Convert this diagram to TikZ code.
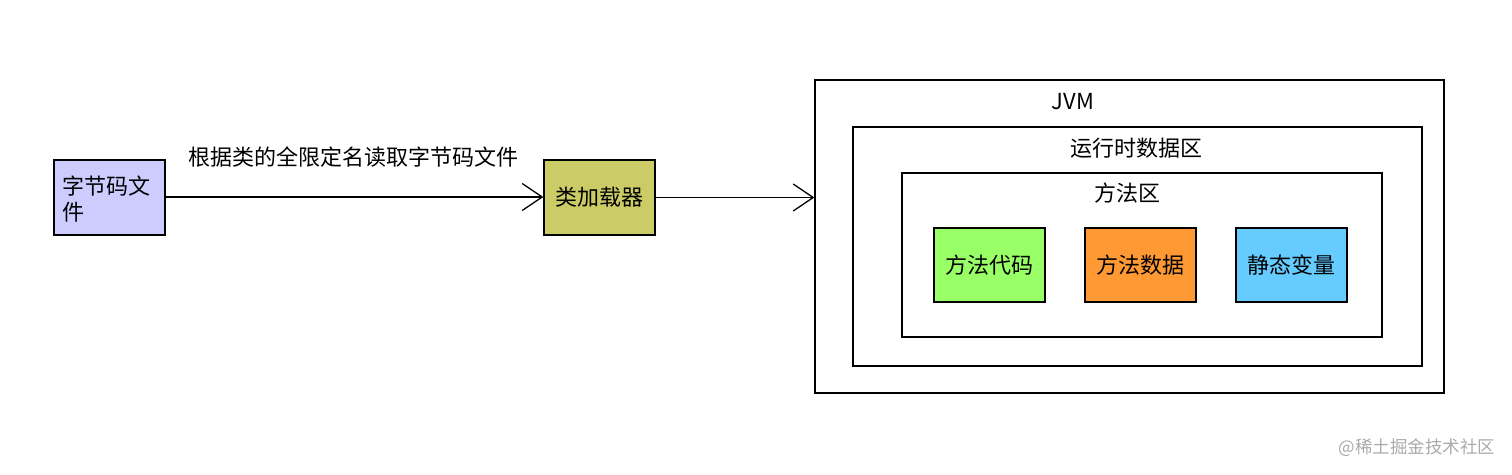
\documentclass[tikz,border=0pt]{standalone}
\usepackage{fontspec}
\setmainfont{Noto Sans CJK SC}
\usetikzlibrary{arrows.meta}
\definecolor{cfile}{HTML}{CCCCFF}
\definecolor{cload}{HTML}{CCCC66}
\definecolor{cgreen}{HTML}{99FF66}
\definecolor{corange}{HTML}{FF9933}
\definecolor{cblue}{HTML}{66CCFF}
\definecolor{cmark}{HTML}{AAAAAA}
\tikzset{
  box/.style={draw=black, line width=1.3pt, inner sep=0pt},
  txt/.style={font=\fontsize{22}{26}\selectfont, inner sep=0pt},
  conn/.style={line width=1.3pt, -{Straight Barb[length=20pt,width=27pt,line width=1.3pt]}},
}
\begin{document}
\begin{tikzpicture}[x=1pt,y=-1pt]
\useasboundingbox (0,0) rectangle (1512,474);
% left boxes
\draw[box, fill=cfile] (54,160) rectangle (165,235);
\node[txt, anchor=west, align=left] (file) at (62,199) {字节码文\\件};
\coordinate (fileR) at (165,197);
\node[box, fill=cload, minimum width=111pt, minimum height=75pt] (loader) at (599.5,197.5) {};
\node[txt] (loadertxt) at (loader.center) {类加载器};
\node[txt] (lbl) at (353,157) {根据类的全限定名读取字节码文件};
% JVM
\node[box, minimum width=629pt, minimum height=313pt] (jvm) at (1129.5,236.5) {};
\node[txt] (jvmtxt) at (1073,102) {JVM};
\node[box, minimum width=569pt, minimum height=239pt] (rt) at (1137.5,246.5) {};
\node[txt] (rttxt) at (1136,148) {运行时数据区};
\node[box, minimum width=480pt, minimum height=164pt] (ma) at (1142,255) {};
\node[txt] (matxt) at (1127,193) {方法区};
\node[box, fill=cgreen, minimum width=111pt, minimum height=74pt, txt] (m1) at (989.5,265) {方法代码};
\node[box, fill=corange, minimum width=111pt, minimum height=74pt, txt] (m2) at (1140.5,265) {方法数据};
\node[box, fill=cblue, minimum width=111pt, minimum height=74pt, txt] (m3) at (1291.5,265) {静态变量};
% connectors
\draw[conn] (fileR) -- (loader.west|-fileR);
\draw[conn] (loader.east) -- (jvm.west|-loader.east);
% watermark
\node[font=\fontsize{17.5}{20}\selectfont, text=cmark, inner sep=0pt] (wm) at (1417,448) {@稀土掘金技术社区};
\end{tikzpicture}
\end{document}
